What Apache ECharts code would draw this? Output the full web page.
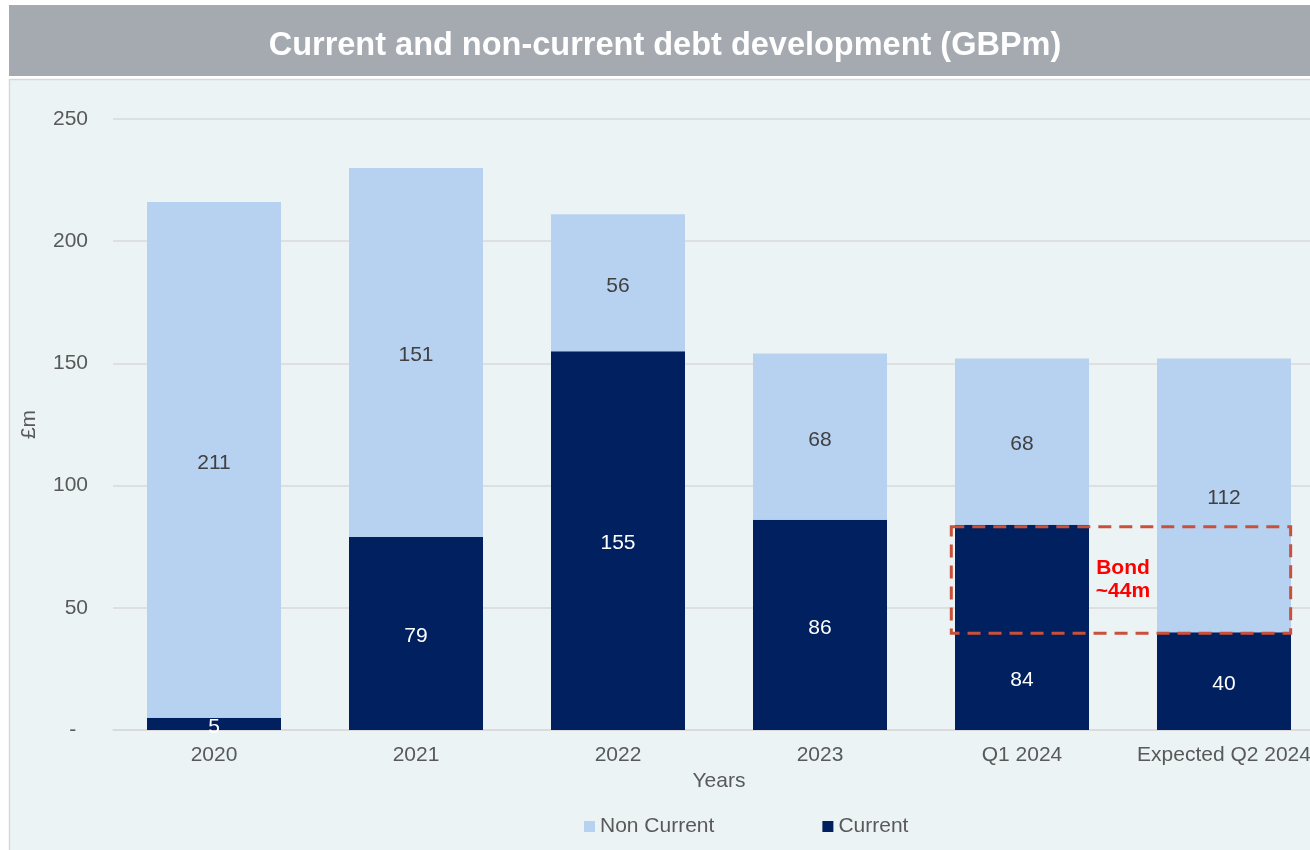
<!DOCTYPE html>
<html>
<head>
<meta charset="utf-8">
<script src="https://cdn.jsdelivr.net/npm/echarts@6/dist/echarts.min.js"></script>
<style>
  html, body { margin: 0; padding: 0; background: #ffffff; }
  #chart { width: 1310px; height: 850px; }
</style>
</head>
<body>
<div id="chart"></div>
<script>
// Debt by year, GBP millions
const categories = ['2020', '2021', '2022', '2023', 'Q1 2024', 'Expected Q2 2024'];
const nonCurrent = [211, 151, 56, 68, 68, 112];
const current = [5, 79, 155, 86, 84, 40];
const yTicks = { min: 0, max: 250, interval: 50 };
// Bond refinancing box: from Q1 2024 to Expected Q2 2024, between current levels
const bondBox = [[4, 5, 84, 40]];
const bondText = 'Bond\n~44m';
const titleText = 'Current and non-current debt development (GBPm)';

const FONT = '"Liberation Sans", Arial, sans-serif';
const chart = echarts.init(document.getElementById('chart'), null, { renderer: 'canvas' });

// Q1 2024 current label sits low in its bar, under the bond box
const currentData = current.map((v, i) => (i === 4
  ? { value: v, label: { position: 'insideBottom', distance: 39, offset: [0, 0] } }
  : v));

chart.setOption({
  backgroundColor: '#ffffff',
  animation: false,
  textStyle: { fontFamily: FONT },
  graphic: [
    { type: 'rect', z: -10, shape: { x: 9, y: 5, width: 1310, height: 71 }, style: { fill: '#A5A9B0' } },
    { type: 'rect', z: -10, shape: { x: 9.5, y: 79.5, width: 1310, height: 780 },
      style: { fill: '#EBF3F5', stroke: '#D6D9DB', lineWidth: 1.5 } },
    { type: 'text', z: 5, x: 665, y: 46,
      style: { text: titleText, fill: '#ffffff', font: 'bold 32.5px ' + FONT,
        align: 'center', verticalAlign: 'middle' } }
  ],
  legend: {
    data: ['Non Current', 'Current'],
    left: 579, top: 811,
    itemWidth: 11, itemHeight: 11, itemGap: 108,
    icon: 'rect',
    textStyle: { fontSize: 21, color: '#595959', fontFamily: FONT }
  },
  grid: { left: 113, top: 119, width: 1212, height: 611, containLabel: false, outerBoundsMode: 'none' },
  xAxis: {
    type: 'category',
    data: categories,
    name: 'Years',
    nameLocation: 'middle',
    nameGap: 30,
    nameTextStyle: { fontSize: 21, color: '#595959' },
    axisTick: { show: false },
    axisLine: { lineStyle: { color: '#D9D9D9', width: 1.5 } },
    axisLabel: { fontSize: 21, color: '#595959', margin: 15, interval: 0 }
  },
  yAxis: {
    type: 'value',
    min: yTicks.min, max: yTicks.max, interval: yTicks.interval,
    name: '£m',
    nameLocation: 'middle',
    nameRotate: 90,
    nameGap: 73,
    nameTextStyle: { fontSize: 21, color: '#595959' },
    axisLine: { show: false },
    axisTick: { show: false },
    splitLine: { lineStyle: { color: '#D9D9D9', width: 1.5 } },
    axisLabel: {
      fontSize: 21, color: '#595959', margin: 25,
      formatter: v => (v === 0 ? '-  ' : String(v))
    }
  },
  series: [
    {
      name: 'Current', type: 'bar', stack: 'debt', data: currentData,
      barWidth: 134,
      itemStyle: { color: '#00205F' },
      label: { show: true, position: 'inside', offset: [0, 3], fontSize: 21, color: '#ffffff' }
    },
    {
      name: 'Non Current', type: 'bar', stack: 'debt', data: nonCurrent,
      barWidth: 134,
      itemStyle: { color: '#B7D1F1' },
      label: { show: true, position: 'inside', offset: [0, 3], fontSize: 21, color: '#404040' }
    },
    {
      name: 'Bond', type: 'custom', z: 10,
      data: bondBox,
      encode: { x: [0, 1], y: [2, 3] },
      renderItem: function (params, api) {
        const band = api.size([1, 0])[0];
        const pTop = api.coord([api.value(0), api.value(2)]);
        const pBot = api.coord([api.value(1), api.value(3)]);
        const x0 = pTop[0] - band * 0.35;
        const x1 = pBot[0] + band * 0.33;
        const y0 = pTop[1] + 2;
        const y1 = pBot[1] + 1;
        return {
          type: 'group',
          children: [
            {
              type: 'rect',
              shape: { x: x0, y: y0, width: x1 - x0, height: y1 - y0 },
              style: { fill: 'none', stroke: '#C9503A', lineWidth: 3, lineDash: [13, 8] }
            },
            {
              type: 'text',
              style: {
                x: (pTop[0] + pBot[0]) / 2, y: (y0 + y1) / 2,
                text: bondText, fill: '#FF0000',
                font: 'bold 21px ' + FONT,
                align: 'center', verticalAlign: 'middle', lineHeight: 23
              }
            }
          ]
        };
      }
    }
  ]
});
</script>
</body>
</html>
